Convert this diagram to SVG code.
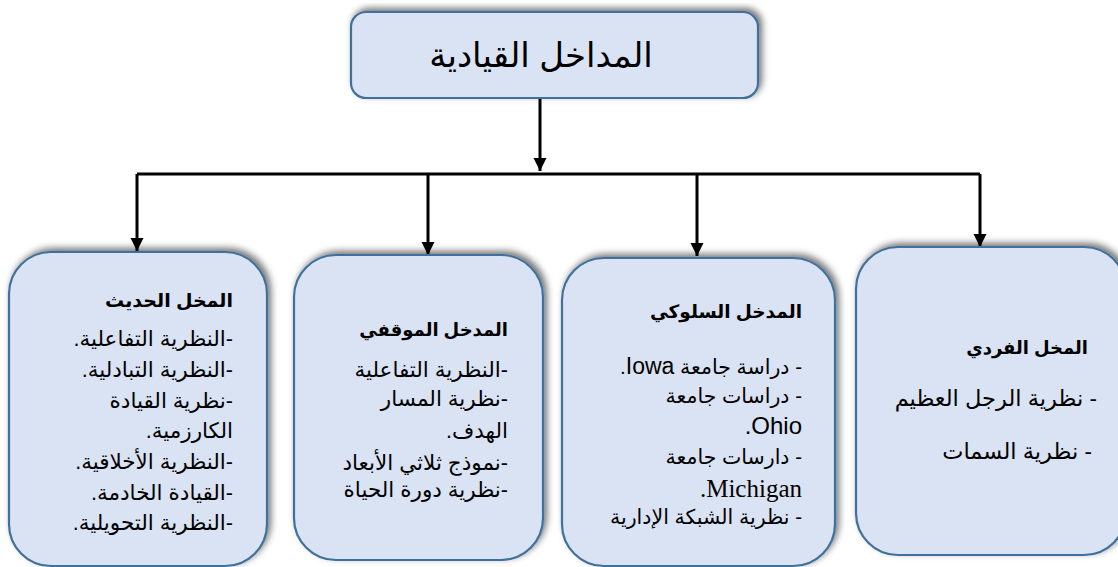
<svg xmlns="http://www.w3.org/2000/svg" width="1118" height="567" viewBox="0 0 1118 567">
<style>
.box{fill:#dae3f3;stroke:#41719c;stroke-width:2.2;filter:url(#sh)}
.t{font-family:"Liberation Sans","DejaVu Sans",sans-serif;font-size:21.5px;fill:#000;direction:rtl;text-anchor:start;unicode-bidi:embed}
.h{font-weight:bold;font-size:18.5px}
.s{font-size:20.5px}
.c{stroke:#000;stroke-width:3;fill:none}
.lat{font-size:23px}
</style>
<defs>
<filter id="sh" x="-10%" y="-10%" width="120%" height="120%">
<feDropShadow dx="3" dy="-3" stdDeviation="3.5" flood-color="#000" flood-opacity="0.55"/>
</filter>
<marker id="ar" viewBox="0 0 10 10" refX="10" refY="5" markerWidth="4.5" markerHeight="4.5" orient="auto" markerUnits="strokeWidth">
<path d="M0,0 L10,5 L0,10 z" fill="#000"/>
</marker>
</defs>
<g id="connectors">
<path class="c" d="M540,98 V171" marker-end="url(#ar)"/>
<path class="c" d="M137,174 H980"/>
<path class="c" d="M137,174 V251" marker-end="url(#ar)"/>
<path class="c" d="M428,174 V255" marker-end="url(#ar)"/>
<path class="c" d="M697,174 V256" marker-end="url(#ar)"/>
<path class="c" d="M980,174 V247" marker-end="url(#ar)"/>
</g>
<g id="root">
<rect class="box" x="351" y="12" width="407" height="86" rx="15"/>
<text class="t" x="541" y="67" style="font-size:34px;text-anchor:middle">المداخل القيادية</text>
</g>
<g id="modern">
<rect class="box" x="9" y="252" width="258" height="314" rx="42"/>
<text class="t h" x="233" y="307" style="font-size:19px">المخل الحديث</text>
<text class="t" x="233" y="346">-النظرية التفاعلية.</text>
<text class="t" x="233" y="377">-النظرية التبادلية.</text>
<text class="t" x="233" y="408">-نظرية القيادة</text>
<text class="t" x="233" y="438">الكارزمية.</text>
<text class="t" x="233" y="469">-النظرية الأخلاقية.</text>
<text class="t" x="233" y="500">-القيادة الخادمة.</text>
<text class="t" x="233" y="530">-النظرية التحويلية.</text>
</g>
<g id="situational">
<rect class="box" x="294" y="255" width="249" height="305" rx="42"/>
<text class="t h" x="508" y="336" style="font-size:18px">المدخل الموقفي</text>
<text class="t" x="508" y="377">-النظرية التفاعلية</text>
<text class="t" x="508" y="406">-نظرية المسار</text>
<text class="t" x="508" y="438">الهدف.</text>
<text class="t" x="508" y="470">-نموذج ثلاثي الأبعاد</text>
<text class="t" x="508" y="497">-نظرية دورة الحياة</text>
</g>
<g id="behavioral">
<rect class="box" x="562" y="258" width="273" height="308" rx="42"/>
<text class="t h" x="802" y="318">المدخل السلوكي</text>
<text class="t s" x="802" y="374">- دراسة جامعة <tspan class="lat">Iowa</tspan>.</text>
<text class="t s" x="802" y="403">- دراسات جامعة</text>
<text class="t lat" x="802" y="434" style="font-size:24px">Ohio.</text>
<text class="t s" x="802" y="464">- دارسات جامعة</text>
<text class="t" x="802" y="497" style="font-family:'Liberation Serif',serif;font-size:25px">Michigan.</text>
<text class="t s" x="802" y="524">- نظرية الشبكة الإدارية</text>
</g>
<g id="individual">
<rect class="box" x="856" y="247" width="270" height="308" rx="42"/>
<text class="t h" x="1088" y="354" style="font-size:18px">المخل الفردي</text>
<text class="t" x="1097" y="406" style="font-size:22.5px">- نظرية الرجل العظيم</text>
<text class="t" x="1092" y="459" style="font-size:22.5px">- نظرية السمات</text>
</g>
</svg>
